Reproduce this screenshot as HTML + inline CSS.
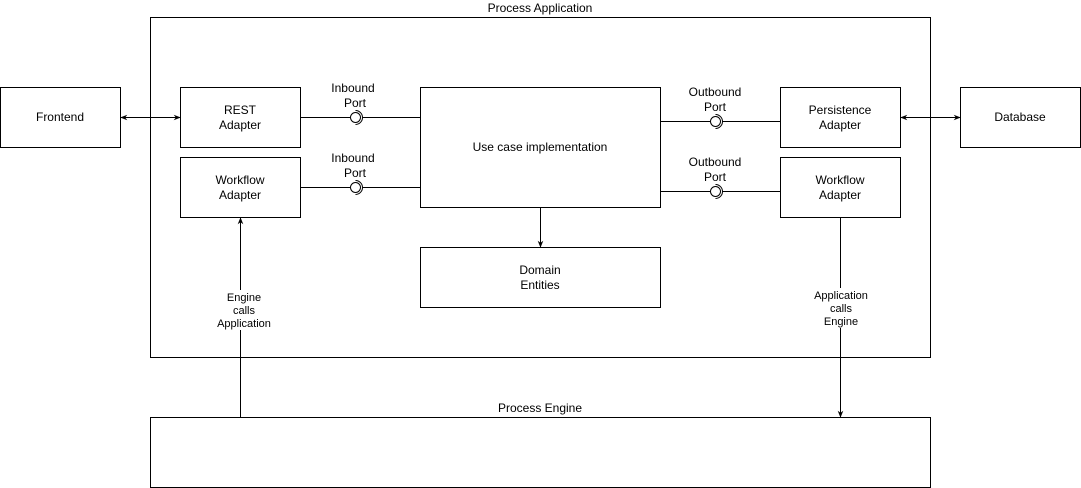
<!DOCTYPE html>
<html><head><style>body{margin:0;background:#fff}svg{display:block}</style></head>
<body>
<svg width="1081" height="488" xmlns="http://www.w3.org/2000/svg" font-family="Liberation Sans, Arial, sans-serif" font-size="12" text-anchor="middle">
<defs>
<marker id="a" viewBox="0 0 10 10" refX="9" refY="5" markerWidth="7" markerHeight="7" orient="auto-start-reverse"><path d="M0,1 L10,5 L0,9 L3,5 Z" fill="#000"/></marker>
</defs>
<g fill="#fff" stroke="#000" stroke-width="1">
<rect x="150.5" y="17.5" width="780" height="340"/>
<rect x="150.5" y="417.5" width="780" height="70"/>
<rect x="0.5" y="87.5" width="120" height="60"/>
<rect x="180.5" y="87.5" width="120" height="60"/>
<rect x="180.5" y="157.5" width="120" height="60"/>
<rect x="420.5" y="87.5" width="240" height="120"/>
<rect x="420.5" y="247.5" width="240" height="60"/>
<rect x="780.5" y="87.5" width="120" height="60"/>
<rect x="780.5" y="157.5" width="120" height="60"/>
<rect x="960.5" y="87.5" width="120" height="60"/>
</g>
<g stroke="#000" fill="none">
<line x1="121" y1="117.5" x2="180" y2="117.5" marker-start="url(#a)" marker-end="url(#a)"/>
<line x1="901" y1="117.5" x2="960" y2="117.5" marker-start="url(#a)" marker-end="url(#a)"/>
<line x1="540.5" y1="208" x2="540.5" y2="247" marker-end="url(#a)"/>
<line x1="240.5" y1="417" x2="240.5" y2="218" marker-end="url(#a)"/>
<line x1="840.5" y1="218" x2="840.5" y2="417" marker-end="url(#a)"/>
<line x1="301" y1="117.5" x2="350" y2="117.5"/><line x1="362" y1="117.5" x2="420" y2="117.5"/>
<line x1="301" y1="187.5" x2="350" y2="187.5"/><line x1="362" y1="187.5" x2="420" y2="187.5"/>
<line x1="661" y1="121.5" x2="710" y2="121.5"/><line x1="722" y1="121.5" x2="780" y2="121.5"/>
<line x1="661" y1="191.5" x2="710" y2="191.5"/><line x1="722" y1="191.5" x2="780" y2="191.5"/>
<circle cx="355.5" cy="117.5" r="5" fill="#fff"/><path d="M355.5,110.5 A7,7 0 0 1 355.5,124.5"/>
<circle cx="355.5" cy="187.5" r="5" fill="#fff"/><path d="M355.5,180.5 A7,7 0 0 1 355.5,194.5"/>
<circle cx="715.5" cy="121.5" r="5" fill="#fff"/><path d="M715.5,114.5 A7,7 0 0 1 715.5,128.5"/>
<circle cx="715.5" cy="191.5" r="5" fill="#fff"/><path d="M715.5,184.5 A7,7 0 0 1 715.5,198.5"/>
</g>
<rect x="215" y="290" width="52" height="40" fill="#fff"/>
<rect x="812" y="288" width="60" height="40" fill="#fff"/>
<g fill="#000">
<text x="540" y="12">Process Application</text>
<text x="540" y="412">Process Engine</text>
<text x="60" y="121">Frontend</text>
<text x="240" y="114">REST</text><text x="240" y="129">Adapter</text>
<text x="240" y="184">Workflow</text><text x="240" y="199">Adapter</text>
<text x="540" y="151">Use case implementation</text>
<text x="540" y="274">Domain</text><text x="540" y="289">Entities</text>
<text x="840" y="114">Persistence</text><text x="840" y="129">Adapter</text>
<text x="840" y="184">Workflow</text><text x="840" y="199">Adapter</text>
<text x="1020" y="121">Database</text>
<text x="353" y="92">Inbound</text><text x="355" y="107">Port</text>
<text x="353" y="162">Inbound</text><text x="355" y="177">Port</text>
<text x="715" y="96">Outbound</text><text x="715" y="111">Port</text>
<text x="715" y="166">Outbound</text><text x="715" y="181">Port</text>
<g font-size="11"><text x="244" y="301">Engine</text><text x="244" y="314">calls</text><text x="244" y="327">Application</text>
<text x="841" y="299">Application</text><text x="841" y="312">calls</text><text x="841" y="325">Engine</text></g>
</g>
</svg>
</body></html>
